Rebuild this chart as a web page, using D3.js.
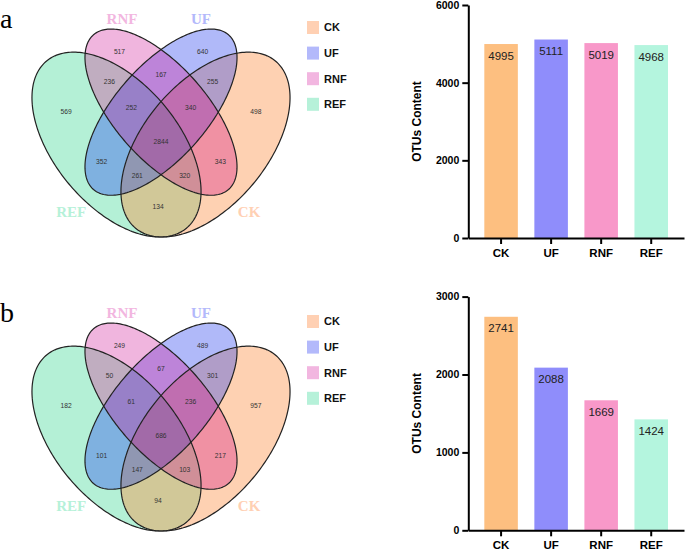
<!DOCTYPE html>
<html>
<head>
<meta charset="utf-8">
<style>
  body { margin: 0; background: #fff; }
  svg { display: block; font-family: Arial, 'Liberation Sans', sans-serif; }
  .venn-num { font-size: 6.7px; fill: #333; }
  .set-label { font-family: 'Times New Roman', 'Liberation Serif', serif; font-weight: bold; font-size: 15px; }
  .panel { font-family: 'Times New Roman', 'Liberation Serif', serif; font-size: 28px; fill: #000; }
  .legend text { font-size: 11px; font-weight: bold; fill: #111; }
  .axis text { font-size: 10.5px; font-weight: bold; fill: #000; font-family: Arial, 'Liberation Sans', sans-serif; }
  .axis.x text { font-size: 11.5px; }
  .axis path, .axis line { stroke: #000; stroke-width: 2; }
  .bar-val { font-size: 11.5px; fill: #222; }
  .ytitle { font-size: 12px; font-weight: bold; }
</style>
</head>
<body>
<svg width="685" height="550"></svg>
<script src="https://cdnjs.cloudflare.com/ajax/libs/d3/7.8.5/d3.min.js"></script>
<script>
// ---- data ----
const sets = ["REF", "RNF", "UF", "CK"];
const legendOrder = ["CK", "UF", "RNF", "REF"];
const regionKeys = ["REF", "RNF", "UF", "CK",
  "REF&RNF", "RNF&UF", "UF&CK", "REF&UF", "RNF&CK", "REF&CK",
  "REF&RNF&UF", "RNF&UF&CK", "REF&UF&CK", "REF&RNF&CK", "REF&RNF&UF&CK"];
const vennA = [569, 517, 640, 498, 236, 167, 255, 352, 343, 134, 252, 340, 261, 320, 2844];
const vennB = [182, 249, 489, 957, 50, 67, 301, 101, 217, 94, 61, 236, 147, 103, 686];

const categories = ["CK", "UF", "RNF", "REF"];
const totalsA = [4995, 5111, 5019, 4968];
const totalsB = [2741, 2088, 1669, 1424];
const ticksA = [0, 2000, 4000, 6000];
const ticksB = [0, 1000, 2000, 3000];

// ---- styles ----
const setColor = { CK: "#ffd0b3", UF: "#b3b9fb", RNF: "#f2b6e0", REF: "#b6f1d9" };
const barColor = { CK: "#fdbf80", UF: "#8f8dfb", RNF: "#f898c9", REF: "#b4f5de" };
const regionColor = {
  "REF": "#b4f0d6", "RNF": "#f0b5de", "UF": "#b0b9f9", "CK": "#fed1b2",
  "REF&RNF": "#c0adc0", "RNF&UF": "#bd84d9", "UF&CK": "#b09dc8", "REF&UF": "#7fb1e0",
  "RNF&CK": "#f091a3", "REF&CK": "#d1c898",
  "REF&RNF&UF": "#9880c8", "RNF&UF&CK": "#c06eb0", "REF&UF&CK": "#9097b2",
  "REF&RNF&CK": "#d08f98", "REF&RNF&UF&CK": "#a26aa8"
};

// four-ellipse venn template in unit space (y up), dir = major axis direction
const ellipses = {
  REF: { x: 0.35, y: 0.47, a: 0.35, b: 0.20, dir: -1 },
  RNF: { x: 0.50, y: 0.57, a: 0.33, b: 0.15, dir: -1 },
  UF:  { x: 0.50, y: 0.57, a: 0.33, b: 0.15, dir: 1 },
  CK:  { x: 0.65, y: 0.47, a: 0.35, b: 0.20, dir: 1 }
};
// where each count sits in the template
const labelSpot = {
  "REF": [0.18, 0.57], "RNF": [0.36, 0.755], "UF": [0.64, 0.755], "CK": [0.82, 0.57],
  "REF&RNF": [0.326, 0.663], "RNF&UF": [0.5, 0.685], "UF&CK": [0.674, 0.663],
  "REF&UF": [0.30, 0.416], "RNF&CK": [0.70, 0.416], "REF&CK": [0.49, 0.278],
  "REF&RNF&UF": [0.40, 0.583], "RNF&UF&CK": [0.60, 0.583],
  "REF&UF&CK": [0.42, 0.373], "REF&RNF&CK": [0.58, 0.373], "REF&RNF&UF&CK": [0.5, 0.478]
};
const setLabelSpot = { RNF: [0.3685, 0.842], UF: [0.635, 0.842], REF: [0.197, 0.247], CK: [0.797, 0.247] };

const xU = d3.scaleLinear().domain([0, 1]).range([12.7, 309.3]);
const yU = d3.scaleLinear().domain([0, 1]).range([297, -27.3]);

const svg = d3.select("svg");
const defs = svg.append("defs");

const outline = d3.line().x(p => xU(p[0])).y(p => yU(p[1])).curve(d3.curveLinearClosed);
function ellipsePath(e) {
  const r = Math.SQRT1_2;
  const m = [r, e.dir * r], n = [-e.dir * r, r];
  const pts = d3.range(240).map(i => {
    const t = i / 240 * 2 * Math.PI;
    const ca = e.a * Math.cos(t), sb = e.b * Math.sin(t);
    return [e.x + ca * m[0] + sb * n[0], e.y + ca * m[1] + sb * n[1]];
  });
  return outline(pts);
}

sets.forEach(s => {
  defs.append("clipPath").attr("id", "clip-" + s)
    .append("path").attr("d", ellipsePath(ellipses[s]));
});
regionKeys.forEach((k, i) => {
  const inc = k.split("&");
  const m = defs.append("mask").attr("id", "mask-" + i)
    .attr("maskUnits", "userSpaceOnUse").attr("x", 0).attr("y", 0).attr("width", 330).attr("height", 260);
  m.append("rect").attr("width", 330).attr("height", 260).attr("fill", "#fff");
  sets.filter(s => !inc.includes(s)).forEach(s => {
    m.append("path").attr("d", ellipsePath(ellipses[s])).attr("fill", "#000");
  });
});

function drawVenn(g, counts) {
  regionKeys.forEach((k, i) => {
    let node = g;
    k.split("&").forEach(s => { node = node.append("g").attr("clip-path", `url(#clip-${s})`); });
    node.append("rect").attr("width", 330).attr("height", 260)
      .attr("fill", regionColor[k]).attr("mask", `url(#mask-${i})`);
  });
  g.selectAll("path.outline").data(sets).join("path")
    .attr("class", "outline")
    .attr("d", s => ellipsePath(ellipses[s]))
    .attr("fill", "none").attr("stroke", "#222").attr("stroke-width", 1.2);
  g.selectAll("text.venn-num").data(regionKeys).join("text")
    .attr("class", "venn-num")
    .attr("x", k => xU(labelSpot[k][0])).attr("y", k => yU(labelSpot[k][1]))
    .attr("text-anchor", "middle").attr("dy", "0.35em")
    .text((k, i) => counts[i]);

  g.selectAll("text.set-label").data(sets).join("text")
    .attr("class", "set-label")
    .attr("x", s => xU(setLabelSpot[s][0])).attr("y", s => yU(setLabelSpot[s][1]))
    .attr("text-anchor", "middle").attr("fill", s => setColor[s])
    .text(s => s);

  const lg = g.append("g").attr("class", "legend").attr("transform", "translate(307,21)");
  const item = lg.selectAll("g").data(legendOrder).join("g")
    .attr("transform", (s, i) => `translate(0,${i * 25.6})`);
  item.append("rect").attr("width", 12).attr("height", 13).attr("fill", s => setColor[s]);
  item.append("text").attr("x", 17).attr("y", 6.5).attr("dy", "0.35em").text(s => s);
}

function drawBars(g, values, ticks, y0, y1) {
  const x = d3.scaleBand().domain(categories).range([468.3, 684])
    .paddingInner(0.33).paddingOuter(0.32);
  const y = d3.scaleLinear().domain([0, d3.max(ticks)]).range([y0, y1]);
  g.selectAll("rect").data(categories).join("rect")
    .attr("x", c => x(c)).attr("width", x.bandwidth())
    .attr("y", (c, i) => y(values[i])).attr("height", (c, i) => y0 - y(values[i]))
    .attr("fill", c => barColor[c]);
  g.selectAll("text.bar-val").data(categories).join("text")
    .attr("class", "bar-val")
    .attr("x", c => x(c) + x.bandwidth() / 2)
    .attr("y", (c, i) => y(values[i]) + 15.5)
    .attr("text-anchor", "middle")
    .text((c, i) => values[i]);
  g.append("g").attr("class", "axis y").attr("transform", "translate(468.3,0)")
    .call(d3.axisLeft(y).tickValues(ticks).tickSize(6).tickSizeOuter(0).tickPadding(3).tickFormat(d3.format("d")));
  g.append("g").attr("class", "axis x").attr("transform", `translate(0,${y0})`)
    .call(d3.axisBottom(x).tickSize(6).tickSizeOuter(0).tickPadding(5));
  g.append("text").attr("class", "ytitle")
    .attr("transform", `translate(421,${(y0 + y1) / 2}) rotate(-90)`)
    .attr("text-anchor", "middle")
    .text("OTUs Content");
}

drawVenn(svg.append("g"), vennA);
drawVenn(svg.append("g").attr("transform", "translate(0,294)"), vennB);
drawBars(svg.append("g"), totalsA, ticksA, 238, 5);
drawBars(svg.append("g"), totalsB, ticksB, 530.3, 296.6);

svg.append("text").attr("class", "panel").attr("x", 0).attr("y", 27.5).text("a");
svg.append("text").attr("class", "panel").attr("x", 0).attr("y", 321.5).text("b");
</script>
</body>
</html>
